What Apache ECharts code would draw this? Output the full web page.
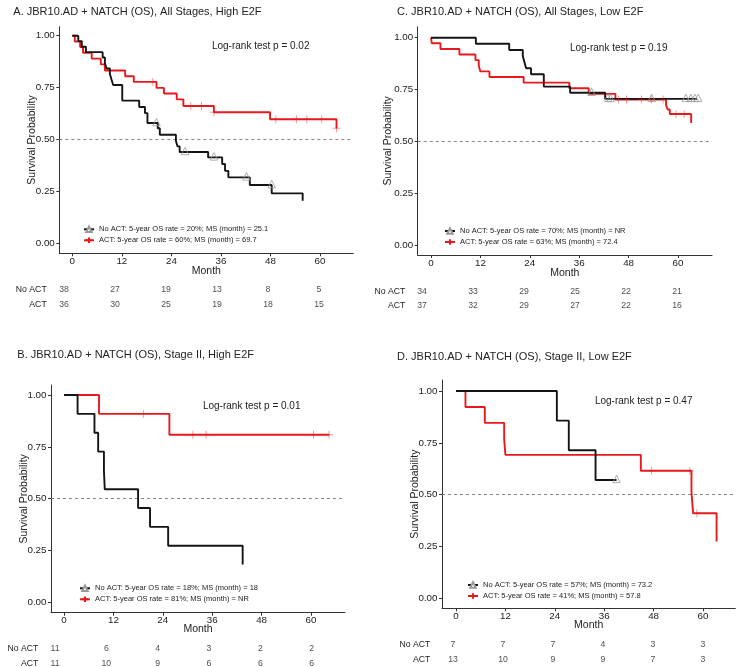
<!DOCTYPE html>
<html><head><meta charset="utf-8">
<script src="https://cdn.jsdelivr.net/npm/echarts@6/dist/echarts.min.js"></script>
<style>html,body{margin:0;padding:0;background:#fff}#c{width:743px;height:667px}</style>
</head><body><div id="c"></div>
<script>
// ---------- shared ticks / labels ----------
const monthTicks = [0, 12, 24, 36, 48, 60];
const survTicks = [0, 0.25, 0.5, 0.75, 1];
const riskGroups = ['No ACT', 'ACT'];

// ---------- Panel A: All Stages, High E2F ----------
const A_title = 'A. JBR10.AD + NATCH (OS), All Stages, High E2F';
const A_pval = 'Log-rank test p = 0.02';
const A_noActName = 'No ACT: 5-year OS rate = 20%; MS (month) = 25.1';
const A_actName = 'ACT: 5-year OS rate = 60%; MS (month) = 69.7';
const A_noActCurve = [[0,1],[1.45,0.974],[2.3,0.947],[3.3,0.921],[7.35,0.895],[7.9,0.868],[8.3,0.842],[9.1,0.816],[9.5,0.789],[9.9,0.763],[12.1,0.688],[16.2,0.657],[17.6,0.628],[18.2,0.58],[20.7,0.555],[21.2,0.524],[25.1,0.494],[25.5,0.468],[26.0,0.441],[32.9,0.415],[36.3,0.383],[37.0,0.350],[37.8,0.319],[43.0,0.282],[48.3,0.242],[55.8,0.207]];
const A_noActCensor = [[20.4,0.58],[27.3,0.441],[34.3,0.415],[42.2,0.319],[48.3,0.282]];
const A_actCurve = [[0,1],[0.6,0.972],[1.9,0.946],[2.6,0.918],[4.7,0.890],[6.9,0.862],[7.9,0.833],[12.8,0.805],[14.9,0.778],[20.4,0.749],[22.2,0.722],[25.3,0.694],[26.9,0.662],[34.3,0.632],[47.9,0.598],[64.0,0.555]];
const A_actCensor = [[19.5,0.778],[28.7,0.662],[31.3,0.662],[34.3,0.632],[49.3,0.598],[54.3,0.598],[56.8,0.598],[60.4,0.598],[64.0,0.555]];
const A_riskNoAct = [38, 27, 19, 13, 8, 5];
const A_riskAct = [36, 30, 25, 19, 18, 15];

// ---------- Panel C: All Stages, Low E2F ----------
const C_title = 'C. JBR10.AD + NATCH (OS), All Stages, Low E2F';
const C_pval = 'Log-rank test p = 0.19';
const C_noActName = 'No ACT: 5-year OS rate = 70%; MS (month) = NR';
const C_actName = 'ACT: 5-year OS rate = 63%; MS (month) = 72.4';
const C_noActCurve = [[0,1],[10.9,0.971],[19.0,0.941],[22.3,0.912],[22.7,0.882],[23.1,0.853],[24.3,0.824],[27.4,0.765],[33.8,0.735],[42.3,0.706],[64.6,0.706]];
const C_noActCensor = [[39.0,0.735],[43.0,0.706],[43.6,0.706],[53.6,0.706],[61.9,0.706],[63.1,0.706],[64.1,0.706],[64.9,0.706]];
const C_actCurve = [[0,1],[0.2,0.973],[2.3,0.946],[6.9,0.919],[10.8,0.892],[11.6,0.865],[12.0,0.838],[14.2,0.811],[22.5,0.784],[33.6,0.757],[38.3,0.730],[44.8,0.703],[57.1,0.676],[57.5,0.655],[58.0,0.633],[63.2,0.59]];
const C_actCensor = [[27.5,0.784],[45.5,0.703],[47.5,0.703],[51.1,0.703],[53.5,0.703],[56.4,0.703],[59.5,0.633],[61.5,0.633]];
const C_riskNoAct = [34, 33, 29, 25, 22, 21];
const C_riskAct = [37, 32, 29, 27, 22, 16];

// ---------- Panel B: Stage II, High E2F ----------
const B_title = 'B. JBR10.AD + NATCH (OS), Stage II, High E2F';
const B_pval = 'Log-rank test p = 0.01';
const B_noActName = 'No ACT: 5-year OS rate = 18%; MS (month) = 18';
const B_actName = 'ACT: 5-year OS rate = 81%; MS (month) = NR';
const B_noActCurve = [[0,1],[3.3,0.909],[7.4,0.818],[8.3,0.727],[9.7,0.636],[9.9,0.545],[18.0,0.455],[20.9,0.364],[25.3,0.273],[43.4,0.182]];
const B_noActCensor = [];
const B_actCurve = [[0,1],[8.5,0.909],[25.6,0.808],[64.4,0.808]];
const B_actCensor = [[19.3,0.909],[31.3,0.808],[34.5,0.808],[60.6,0.808],[64.4,0.808]];
const B_riskNoAct = [11, 6, 4, 3, 2, 2];
const B_riskAct = [11, 10, 9, 6, 6, 6];

// ---------- Panel D: Stage II, Low E2F ----------
const D_title = 'D. JBR10.AD + NATCH (OS), Stage II, Low E2F';
const D_pval = 'Log-rank test p = 0.47';
const D_noActName = 'No ACT: 5-year OS rate = 57%; MS (month) = 73.2';
const D_actName = 'ACT: 5-year OS rate = 41%; MS (month) = 57.8';
const D_noActCurve = [[0,1],[24.5,0.857],[27.4,0.714],[33.9,0.571],[39.0,0.571]];
const D_noActCensor = [[39.0,0.571]];
const D_actCurve = [[0,1],[2.3,0.923],[7.0,0.846],[11.7,0.769],[12.0,0.692],[44.9,0.615],[57.2,0.513],[57.6,0.41],[63.3,0.274]];
const D_actCensor = [[47.5,0.615],[56.8,0.615],[58.5,0.41]];
const D_riskNoAct = [7, 7, 7, 4, 3, 3];
const D_riskAct = [13, 10, 9, 9, 7, 3];

// ---------- layout (pixels) ----------
const FONT = '"Liberation Sans", Arial, Helvetica, sans-serif';
const TXT = '#222';
const AX = '#333';
const BLACK = '#141414';
const RED = '#e8191c';

const panels = [
  { title: A_title, pval: A_pval, names: [A_noActName, A_actName],
    curves: [A_noActCurve, A_actCurve], censors: [A_noActCensor, A_actCensor], risk: [A_riskNoAct, A_riskAct],
    g: { left: 59.3, right: 353.3, top: 26.7, bottom: 253.3, x0: 72.3, x60: 320, y1: 35.7, y0: 243.7 },
    t: { x0: 64, x60: 319, r1: 290, r2: 305, labRight: 46.7 },
    titlePos: [13.3, 12], pPos: [260.7, 46.7], legPos: [83, 225.3], yNameX: 31.7, xNameY: 271.7 },
  { title: C_title, pval: C_pval, names: [C_noActName, C_actName],
    curves: [C_noActCurve, C_actCurve], censors: [C_noActCensor, C_actCensor], risk: [C_riskNoAct, C_riskAct],
    g: { left: 417.7, right: 712, top: 26.7, bottom: 255, x0: 431, x60: 678, y1: 37.7, y0: 245.7 },
    t: { x0: 422, x60: 677, r1: 292, r2: 306, labRight: 405.3 },
    titlePos: [397, 12], pPos: [618.7, 48.3], legPos: [444, 227], yNameX: 388, xNameY: 273.3 },
  { title: B_title, pval: B_pval, names: [B_noActName, B_actName],
    curves: [B_noActCurve, B_actCurve], censors: [B_noActCensor, B_actCensor], risk: [B_riskNoAct, B_riskAct],
    g: { left: 51, right: 345, top: 385, bottom: 612.7, x0: 64, x60: 311, y1: 395, y0: 602.3 },
    t: { x0: 55, x60: 311.7, r1: 649, r2: 663.3, labRight: 38.3 },
    titlePos: [17.3, 355], pPos: [251.7, 406], legPos: [79, 584.3], yNameX: 23.3, xNameY: 630 },
  { title: D_title, pval: D_pval, names: [D_noActName, D_actName],
    curves: [D_noActCurve, D_actCurve], censors: [D_noActCensor, D_actCensor], risk: [D_riskNoAct, D_riskAct],
    g: { left: 442, right: 735.3, top: 380, bottom: 608.3, x0: 456, x60: 703, y1: 391, y0: 598.3 },
    t: { x0: 453, x60: 703, r1: 645, r2: 660, labRight: 430.3 },
    titlePos: [397, 356.7], pPos: [643.7, 401.7], legPos: [467, 581], yNameX: 414.7, xNameY: 625.7 }
];

const grid = [], xAxis = [], yAxis = [], series = [], legend = [], graphic = [];
const crossPath = 'path://M5,0L5,10M0,5L10,5';

panels.forEach((p, i) => {
  const g = p.g;
  const ppm = (g.x60 - g.x0) / 60;
  const ppu = g.y0 - g.y1;
  const xmin = -(g.x0 - g.left) / ppm, xmax = (g.right - g.x0) / ppm;
  const ymin = -(g.bottom - g.y0) / ppu, ymax = 1 + (g.y1 - g.top) / ppu;
  const gi = 2 * i, ti = 2 * i + 1;
  grid.push({ left: g.left, top: g.top, width: g.right - g.left, height: g.bottom - g.top, outerBoundsMode: 'none' });
  const rowH = p.t.r2 - p.t.r1;
  grid.push({ left: p.t.x0, top: p.t.r1 - rowH / 2, width: p.t.x60 - p.t.x0, height: rowH * 2, outerBoundsMode: 'none' });

  xAxis.push({
    gridIndex: gi, type: 'value', min: xmin, max: xmax,
    axisLine: { show: true, onZero: false, lineStyle: { color: AX, width: 1 } },
    axisTick: { show: true, length: 3, customValues: monthTicks, lineStyle: { color: AX } },
    axisLabel: { customValues: monthTicks, margin: 3, fontSize: 9.8, color: TXT, fontFamily: FONT },
    splitLine: { show: false },
    name: 'Month', nameLocation: 'middle', nameGap: (p.xNameY - g.bottom) - 6, nameMoveOverlap: false,
    nameTextStyle: { fontSize: 10.5, color: TXT, fontFamily: FONT }
  });
  yAxis.push({
    gridIndex: gi, type: 'value', min: ymin, max: ymax,
    axisLine: { show: true, onZero: false, lineStyle: { color: AX, width: 1 } },
    axisTick: { show: true, length: 3, customValues: survTicks, lineStyle: { color: AX } },
    axisLabel: { customValues: survTicks, margin: 4.5, fontSize: 9.8, color: TXT, fontFamily: FONT,
      formatter: v => Number(v).toFixed(2) },
    splitLine: { show: false },
    name: 'Survival Probability', nameLocation: 'middle', nameGap: (g.left - p.yNameX) - 6, nameMoveOverlap: false,
    nameTextStyle: { fontSize: 10.5, color: TXT, fontFamily: FONT }
  });
  xAxis.push({ gridIndex: ti, type: 'value', min: 0, max: 60, show: false });
  yAxis.push({
    gridIndex: ti, type: 'category', data: riskGroups, inverse: true,
    axisLine: { show: false }, axisTick: { show: false }, splitLine: { show: false },
    axisLabel: { margin: p.t.x0 - p.t.labRight, fontSize: 8.7, color: TXT, fontFamily: FONT }
  });

  const colors = [BLACK, RED];
  const symbols = ['emptyTriangle', crossPath];
  [0, 1].forEach(k => {
    const s = {
      name: p.names[k], type: 'line', xAxisIndex: gi, yAxisIndex: gi, step: 'end',
      data: p.curves[k], showSymbol: false, symbol: symbols[k], symbolSize: 7,
      lineStyle: { color: colors[k], width: 1.9 },
      itemStyle: k === 0 ? { color: '#999', borderColor: '#999', borderWidth: 1 } : { color: colors[k], borderColor: colors[k], borderWidth: 1.2 },
      z: 3 + (1 - k), silent: true, animation: false
    };
    if (k === 0) {
      s.markLine = {
        silent: true, symbol: ['none', 'none'], label: { show: false },
        lineStyle: { type: [3, 3], color: '#777', width: 0.9 },
        data: [{ yAxis: 0.5 }], z: 1
      };
    }
    series.push(s);
  });
  series.push({
    type: 'scatter', xAxisIndex: gi, yAxisIndex: gi, data: p.censors[0],
    symbol: 'triangle', symbolSize: 7.5, symbolOffset: [0, -1],
    itemStyle: { color: 'none', borderColor: '#9a9a9a', borderWidth: 1 }, z: 6, silent: true
  });
  series.push({
    type: 'scatter', xAxisIndex: gi, yAxisIndex: gi, data: p.censors[1],
    symbol: crossPath, symbolSize: 8,
    itemStyle: { color: 'none', borderColor: 'rgba(232,25,28,0.55)', borderWidth: 1 }, z: 6, silent: true
  });
  [0, 1].forEach(k => {
    series.push({
      type: 'scatter', xAxisIndex: ti, yAxisIndex: ti,
      data: monthTicks.map((m, j) => [m, k, p.risk[k][j]]),
      symbolSize: 1, itemStyle: { color: 'rgba(0,0,0,0)' }, silent: true,
      label: { show: true, position: 'inside', formatter: q => q.value[2], fontSize: 8.7, color: TXT, fontFamily: FONT }
    });
  });

  legend.push({
    data: p.names, orient: 'vertical', left: p.legPos[0], top: p.legPos[1], padding: 0,
    itemWidth: 10, itemHeight: 7, itemGap: 3, selectedMode: false,
    textStyle: { fontSize: 7.5, color: TXT, fontFamily: FONT, lineHeight: 8 }
  });

  graphic.push({ type: 'text', x: p.titlePos[0], y: p.titlePos[1],
    style: { text: p.title, fontSize: 11, fontFamily: FONT, fill: TXT, align: 'left', verticalAlign: 'middle' } });
  graphic.push({ type: 'text', x: p.pPos[0], y: p.pPos[1],
    style: { text: p.pval, fontSize: 10, fontFamily: FONT, fill: TXT, align: 'center', verticalAlign: 'middle' } });
});

const chart = echarts.init(document.getElementById('c'), null, { renderer: 'canvas' });
chart.setOption({
  animation: false,
  backgroundColor: '#fff',
  grid, xAxis, yAxis, series, legend, graphic
});
</script>
</body></html>
